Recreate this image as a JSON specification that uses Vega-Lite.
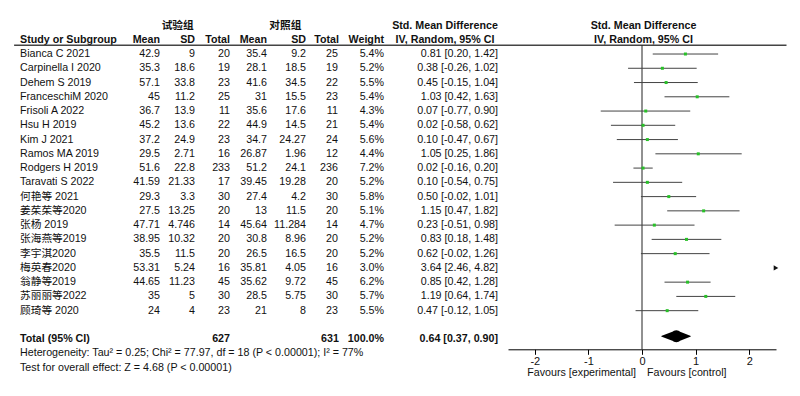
{
  "$schema": "https://vega.github.io/schema/vega-lite/v6.json",
  "width": 800,
  "height": 396,
  "autosize": "none",
  "padding": 0,
  "background": "white",
  "config": {
    "view": {"stroke": null},
    "font": "Liberation Sans, Noto Sans CJK SC",
    "text": {"font": "Liberation Sans, Noto Sans CJK SC", "fontSize": 10.7, "color": "#111"}
  },
  "datasets": {
    "rows": [
      {"row": "h2", "study": "Study or Subgroup", "em": "Mean", "esd": "SD", "et": "Total", "cm": "Mean", "csd": "SD", "ct": "Total", "w": "Weight", "ci": ""},
      {"row": "Bianca C 2021", "study": "Bianca C 2021", "em": "42.9", "esd": "9", "et": "20", "cm": "35.4", "csd": "9.2", "ct": "25", "w": "5.4%", "ci": "0.81 [0.20, 1.42]", "est": 0.81, "lo": 0.20, "hi": 1.42},
      {"row": "Carpinella I 2020", "study": "Carpinella I 2020", "em": "35.3", "esd": "18.6", "et": "19", "cm": "28.1", "csd": "18.5", "ct": "19", "w": "5.2%", "ci": "0.38 [-0.26, 1.02]", "est": 0.38, "lo": -0.26, "hi": 1.02},
      {"row": "Dehem S 2019", "study": "Dehem S 2019", "em": "57.1", "esd": "33.8", "et": "23", "cm": "41.6", "csd": "34.5", "ct": "22", "w": "5.5%", "ci": "0.45 [-0.15, 1.04]", "est": 0.45, "lo": -0.15, "hi": 1.04},
      {"row": "FranceschiM 2020", "study": "FranceschiM 2020", "em": "45", "esd": "11.2", "et": "25", "cm": "31", "csd": "15.5", "ct": "23", "w": "5.4%", "ci": "1.03 [0.42, 1.63]", "est": 1.03, "lo": 0.42, "hi": 1.63},
      {"row": "Frisoli A 2022", "study": "Frisoli A 2022", "em": "36.7", "esd": "13.9", "et": "11", "cm": "35.6", "csd": "17.6", "ct": "11", "w": "4.3%", "ci": "0.07 [-0.77, 0.90]", "est": 0.07, "lo": -0.77, "hi": 0.90},
      {"row": "Hsu H 2019", "study": "Hsu H 2019", "em": "45.2", "esd": "13.6", "et": "22", "cm": "44.9", "csd": "14.5", "ct": "21", "w": "5.4%", "ci": "0.02 [-0.58, 0.62]", "est": 0.02, "lo": -0.58, "hi": 0.62},
      {"row": "Kim J 2021", "study": "Kim J 2021", "em": "37.2", "esd": "24.9", "et": "23", "cm": "34.7", "csd": "24.27", "ct": "24", "w": "5.6%", "ci": "0.10 [-0.47, 0.67]", "est": 0.10, "lo": -0.47, "hi": 0.67},
      {"row": "Ramos MA 2019", "study": "Ramos MA 2019", "em": "29.5", "esd": "2.71", "et": "16", "cm": "26.87", "csd": "1.96", "ct": "12", "w": "4.4%", "ci": "1.05 [0.25, 1.86]", "est": 1.05, "lo": 0.25, "hi": 1.86},
      {"row": "Rodgers H 2019", "study": "Rodgers H 2019", "em": "51.6", "esd": "22.8", "et": "233", "cm": "51.2", "csd": "24.1", "ct": "236", "w": "7.2%", "ci": "0.02 [-0.16, 0.20]", "est": 0.02, "lo": -0.16, "hi": 0.20},
      {"row": "Taravati S 2022", "study": "Taravati S 2022", "em": "41.59", "esd": "21.33", "et": "17", "cm": "39.45", "csd": "19.28", "ct": "20", "w": "5.2%", "ci": "0.10 [-0.54, 0.75]", "est": 0.10, "lo": -0.54, "hi": 0.75},
      {"row": "何艳等 2021", "study": "何艳等 2021", "em": "29.3", "esd": "3.3", "et": "30", "cm": "27.4", "csd": "4.2", "ct": "30", "w": "5.8%", "ci": "0.50 [-0.02, 1.01]", "est": 0.50, "lo": -0.02, "hi": 1.01},
      {"row": "姜茱茱等2020", "study": "姜茱茱等2020", "em": "27.5", "esd": "13.25", "et": "20", "cm": "13", "csd": "11.5", "ct": "20", "w": "5.1%", "ci": "1.15 [0.47, 1.82]", "est": 1.15, "lo": 0.47, "hi": 1.82},
      {"row": "张杨 2019", "study": "张杨 2019", "em": "47.71", "esd": "4.746", "et": "14", "cm": "45.64", "csd": "11.284", "ct": "14", "w": "4.7%", "ci": "0.23 [-0.51, 0.98]", "est": 0.23, "lo": -0.51, "hi": 0.98},
      {"row": "张海燕等2019", "study": "张海燕等2019", "em": "38.95", "esd": "10.32", "et": "20", "cm": "30.8", "csd": "8.96", "ct": "20", "w": "5.2%", "ci": "0.83 [0.18, 1.48]", "est": 0.83, "lo": 0.18, "hi": 1.48},
      {"row": "李宇淇2020", "study": "李宇淇2020", "em": "35.5", "esd": "11.5", "et": "20", "cm": "26.5", "csd": "16.5", "ct": "20", "w": "5.2%", "ci": "0.62 [-0.02, 1.26]", "est": 0.62, "lo": -0.02, "hi": 1.26},
      {"row": "梅英春2020", "study": "梅英春2020", "em": "53.31", "esd": "5.24", "et": "16", "cm": "35.81", "csd": "4.05", "ct": "16", "w": "3.0%", "ci": "3.64 [2.46, 4.82]", "est": 3.64, "lo": 2.46, "hi": 4.82},
      {"row": "翁静等2019", "study": "翁静等2019", "em": "44.65", "esd": "11.23", "et": "45", "cm": "35.62", "csd": "9.72", "ct": "45", "w": "6.2%", "ci": "0.85 [0.42, 1.28]", "est": 0.85, "lo": 0.42, "hi": 1.28},
      {"row": "苏丽丽等2022", "study": "苏丽丽等2022", "em": "35", "esd": "5", "et": "30", "cm": "28.5", "csd": "5.75", "ct": "30", "w": "5.7%", "ci": "1.19 [0.64, 1.74]", "est": 1.19, "lo": 0.64, "hi": 1.74},
      {"row": "顾琦等 2020", "study": "顾琦等 2020", "em": "24", "esd": "4", "et": "23", "cm": "21", "csd": "8", "ct": "23", "w": "5.5%", "ci": "0.47 [-0.12, 1.05]", "est": 0.47, "lo": -0.12, "hi": 1.05},
      {"row": "Total", "study": "Total (95% CI)", "em": "", "esd": "", "et": "627", "cm": "", "csd": "", "ct": "631", "w": "100.0%", "ci": "0.64 [0.37, 0.90]"}
    ],
    "notes": [
      {"row": "het", "t": "Heterogeneity: Tau² = 0.25; Chi² = 77.97, df = 18 (P < 0.00001); I² = 77%"},
      {"row": "test", "t": "Test for overall effect: Z = 4.68 (P < 0.00001)"}
    ]
  },
  "encoding": {
    "y": {
      "field": "row", "type": "nominal", "axis": null,
      "scale": {
        "type": "point",
        "padding": 0,
        "domain": ["h1", "h2", "Bianca C 2021", "Carpinella I 2020", "Dehem S 2019", "FranceschiM 2020", "Frisoli A 2022", "Hsu H 2019", "Kim J 2021", "Ramos MA 2019", "Rodgers H 2019", "Taravati S 2022", "何艳等 2021", "姜茱茱等2020", "张杨 2019", "张海燕等2019", "李宇淇2020", "梅英春2020", "翁静等2019", "苏丽丽等2022", "顾琦等 2020", "blank", "Total", "het", "test"],
        "range": [25.5, 367.7]
      }
    }
  },
  "layer": [
    {
      "layer": [
        {"data": {"name": "rows"}, "transform": [{"filter": "datum.row !== 'h2' && datum.row !== 'Total'"}],
         "mark": {"type": "text", "align": "left", "dx": -101.1},
         "encoding": {"x": {"datum": "study", "axis": null, "scale": {"type": "point", "padding": 0, "domain": ["study", "em", "esd", "et", "cm", "csd", "ct", "w", "ci"], "range": [121.1, 415.5]}}, "text": {"field": "study"}}},
        {"data": {"name": "rows"}, "transform": [{"filter": "datum.row === 'h2' || datum.row === 'Total'"}],
         "mark": {"type": "text", "align": "left", "dx": -101.1, "fontWeight": "bold"},
         "encoding": {"x": {"datum": "study", "axis": null, "scale": {"type": "point", "padding": 0, "domain": ["study", "em", "esd", "et", "cm", "csd", "ct", "w", "ci"], "range": [121.1, 415.5]}}, "text": {"field": "study"}}},

        {"data": {"name": "rows"}, "transform": [{"filter": "datum.row !== 'h2' && datum.row !== 'Total'"}],
         "mark": {"type": "text", "align": "right", "dx": 2.1},
         "encoding": {"x": {"datum": "em", "axis": null, "scale": {"type": "point", "padding": 0, "domain": ["study", "em", "esd", "et", "cm", "csd", "ct", "w", "ci"], "range": [121.1, 415.5]}}, "text": {"field": "em"}}},
        {"data": {"name": "rows"}, "transform": [{"filter": "datum.row === 'h2' || datum.row === 'Total'"}],
         "mark": {"type": "text", "align": "right", "dx": 2.1, "fontWeight": "bold"},
         "encoding": {"x": {"datum": "em", "axis": null, "scale": {"type": "point", "padding": 0, "domain": ["study", "em", "esd", "et", "cm", "csd", "ct", "w", "ci"], "range": [121.1, 415.5]}}, "text": {"field": "em"}}},

        {"data": {"name": "rows"}, "transform": [{"filter": "datum.row !== 'h2' && datum.row !== 'Total'"}],
         "mark": {"type": "text", "align": "right", "dx": 0.3},
         "encoding": {"x": {"datum": "esd", "axis": null, "scale": {"type": "point", "padding": 0, "domain": ["study", "em", "esd", "et", "cm", "csd", "ct", "w", "ci"], "range": [121.1, 415.5]}}, "text": {"field": "esd"}}},
        {"data": {"name": "rows"}, "transform": [{"filter": "datum.row === 'h2' || datum.row === 'Total'"}],
         "mark": {"type": "text", "align": "right", "dx": 0.3, "fontWeight": "bold"},
         "encoding": {"x": {"datum": "esd", "axis": null, "scale": {"type": "point", "padding": 0, "domain": ["study", "em", "esd", "et", "cm", "csd", "ct", "w", "ci"], "range": [121.1, 415.5]}}, "text": {"field": "esd"}}},

        {"data": {"name": "rows"}, "transform": [{"filter": "datum.row !== 'h2' && datum.row !== 'Total'"}],
         "mark": {"type": "text", "align": "right", "dx": -1.5},
         "encoding": {"x": {"datum": "et", "axis": null, "scale": {"type": "point", "padding": 0, "domain": ["study", "em", "esd", "et", "cm", "csd", "ct", "w", "ci"], "range": [121.1, 415.5]}}, "text": {"field": "et"}}},
        {"data": {"name": "rows"}, "transform": [{"filter": "datum.row === 'h2' || datum.row === 'Total'"}],
         "mark": {"type": "text", "align": "right", "dx": -1.5, "fontWeight": "bold"},
         "encoding": {"x": {"datum": "et", "axis": null, "scale": {"type": "point", "padding": 0, "domain": ["study", "em", "esd", "et", "cm", "csd", "ct", "w", "ci"], "range": [121.1, 415.5]}}, "text": {"field": "et"}}},

        {"data": {"name": "rows"}, "transform": [{"filter": "datum.row !== 'h2' && datum.row !== 'Total'"}],
         "mark": {"type": "text", "align": "right", "dx": -1.3},
         "encoding": {"x": {"datum": "cm", "axis": null, "scale": {"type": "point", "padding": 0, "domain": ["study", "em", "esd", "et", "cm", "csd", "ct", "w", "ci"], "range": [121.1, 415.5]}}, "text": {"field": "cm"}}},
        {"data": {"name": "rows"}, "transform": [{"filter": "datum.row === 'h2' || datum.row === 'Total'"}],
         "mark": {"type": "text", "align": "right", "dx": -1.3, "fontWeight": "bold"},
         "encoding": {"x": {"datum": "cm", "axis": null, "scale": {"type": "point", "padding": 0, "domain": ["study", "em", "esd", "et", "cm", "csd", "ct", "w", "ci"], "range": [121.1, 415.5]}}, "text": {"field": "cm"}}},

        {"data": {"name": "rows"}, "transform": [{"filter": "datum.row !== 'h2' && datum.row !== 'Total'"}],
         "mark": {"type": "text", "align": "right", "dx": 0.9},
         "encoding": {"x": {"datum": "csd", "axis": null, "scale": {"type": "point", "padding": 0, "domain": ["study", "em", "esd", "et", "cm", "csd", "ct", "w", "ci"], "range": [121.1, 415.5]}}, "text": {"field": "csd"}}},
        {"data": {"name": "rows"}, "transform": [{"filter": "datum.row === 'h2' || datum.row === 'Total'"}],
         "mark": {"type": "text", "align": "right", "dx": 0.9, "fontWeight": "bold"},
         "encoding": {"x": {"datum": "csd", "axis": null, "scale": {"type": "point", "padding": 0, "domain": ["study", "em", "esd", "et", "cm", "csd", "ct", "w", "ci"], "range": [121.1, 415.5]}}, "text": {"field": "csd"}}},

        {"data": {"name": "rows"}, "transform": [{"filter": "datum.row !== 'h2' && datum.row !== 'Total'"}],
         "mark": {"type": "text", "align": "right", "dx": -4},
         "encoding": {"x": {"datum": "ct", "axis": null, "scale": {"type": "point", "padding": 0, "domain": ["study", "em", "esd", "et", "cm", "csd", "ct", "w", "ci"], "range": [121.1, 415.5]}}, "text": {"field": "ct"}}},
        {"data": {"name": "rows"}, "transform": [{"filter": "datum.row === 'h2' || datum.row === 'Total'"}],
         "mark": {"type": "text", "align": "right", "dx": -3, "fontWeight": "bold"},
         "encoding": {"x": {"datum": "ct", "axis": null, "scale": {"type": "point", "padding": 0, "domain": ["study", "em", "esd", "et", "cm", "csd", "ct", "w", "ci"], "range": [121.1, 415.5]}}, "text": {"field": "ct"}}},

        {"data": {"name": "rows"}, "transform": [{"filter": "datum.row !== 'h2' && datum.row !== 'Total'"}],
         "mark": {"type": "text", "align": "right", "dx": 5.3},
         "encoding": {"x": {"datum": "w", "axis": null, "scale": {"type": "point", "padding": 0, "domain": ["study", "em", "esd", "et", "cm", "csd", "ct", "w", "ci"], "range": [121.1, 415.5]}}, "text": {"field": "w"}}},
        {"data": {"name": "rows"}, "transform": [{"filter": "datum.row === 'h2' || datum.row === 'Total'"}],
         "mark": {"type": "text", "align": "right", "dx": 5.3, "fontWeight": "bold"},
         "encoding": {"x": {"datum": "w", "axis": null, "scale": {"type": "point", "padding": 0, "domain": ["study", "em", "esd", "et", "cm", "csd", "ct", "w", "ci"], "range": [121.1, 415.5]}}, "text": {"field": "w"}}},

        {"data": {"name": "rows"}, "transform": [{"filter": "datum.row !== 'h2' && datum.row !== 'Total'"}],
         "mark": {"type": "text", "align": "right", "dx": 82.5},
         "encoding": {"x": {"datum": "ci", "axis": null, "scale": {"type": "point", "padding": 0, "domain": ["study", "em", "esd", "et", "cm", "csd", "ct", "w", "ci"], "range": [121.1, 415.5]}}, "text": {"field": "ci"}}},
        {"data": {"name": "rows"}, "transform": [{"filter": "datum.row === 'Total'"}],
         "mark": {"type": "text", "align": "right", "dx": 82.5, "fontWeight": "bold"},
         "encoding": {"x": {"datum": "ci", "axis": null, "scale": {"type": "point", "padding": 0, "domain": ["study", "em", "esd", "et", "cm", "csd", "ct", "w", "ci"], "range": [121.1, 415.5]}}, "text": {"field": "ci"}}},

        {"data": {"values": [{"row": "h1", "t": "试验组"}]},
         "mark": {"type": "text", "align": "center", "dx": -17, "fontWeight": "bold"},
         "encoding": {"x": {"datum": "esd", "axis": null, "scale": {"type": "point", "padding": 0, "domain": ["study", "em", "esd", "et", "cm", "csd", "ct", "w", "ci"], "range": [121.1, 415.5]}}, "text": {"field": "t"}}},
        {"data": {"values": [{"row": "h1", "t": "对照组"}]},
         "mark": {"type": "text", "align": "center", "dx": 17, "fontWeight": "bold"},
         "encoding": {"x": {"datum": "cm", "axis": null, "scale": {"type": "point", "padding": 0, "domain": ["study", "em", "esd", "et", "cm", "csd", "ct", "w", "ci"], "range": [121.1, 415.5]}}, "text": {"field": "t"}}},
        {"data": {"values": [{"row": "h1", "t": "Std. Mean Difference"}, {"row": "h2", "t": "IV, Random, 95% CI"}]},
         "mark": {"type": "text", "align": "center", "dx": 29.5, "fontWeight": "bold"},
         "encoding": {"x": {"datum": "ci", "axis": null, "scale": {"type": "point", "padding": 0, "domain": ["study", "em", "esd", "et", "cm", "csd", "ct", "w", "ci"], "range": [121.1, 415.5]}}, "text": {"field": "t"}}},
        {"data": {"name": "notes"},
         "mark": {"type": "text", "align": "left", "dx": -101.1},
         "encoding": {"x": {"datum": "study", "axis": null, "scale": {"type": "point", "padding": 0, "domain": ["study", "em", "esd", "et", "cm", "csd", "ct", "w", "ci"], "range": [121.1, 415.5]}}, "text": {"field": "t"}}},
        {"data": {"values": [{"row": "h2"}]},
         "mark": {"type": "rule", "yOffset": 5.5, "xOffset": -107, "x2Offset": 371, "color": "#444", "strokeWidth": 1.3},
         "encoding": {"x": {"datum": "study", "axis": null, "scale": {"type": "point", "padding": 0, "domain": ["study", "em", "esd", "et", "cm", "csd", "ct", "w", "ci"], "range": [121.1, 415.5]}}, "x2": {"datum": "ci"}}}
      ]
    },
    {
      "layer": [
        {"data": {"values": [{"row": "h2", "row2": "Total"}]},
         "mark": {"type": "rule", "yOffset": 5.5, "y2Offset": 10, "color": "#222", "strokeWidth": 1},
         "encoding": {"x": {"datum": 0, "type": "quantitative", "scale": {"domain": [-2.29, 2.29], "range": [508, 776], "clamp": true},
                            "axis": {"values": [-2, -1, 0, 1, 2], "labelExpr": "datum.value < 0 ? '-' + abs(datum.value) : '' + datum.value", "offset": -46.7, "title": null, "grid": false, "domainColor": "#000", "tickColor": "#000", "labelColor": "#111", "labelFontSize": 11, "labelFont": "Liberation Sans", "tickSize": 5, "labelPadding": 1, "labelFlush": false}},
                      "y2": {"field": "row2"}}},
        {"data": {"name": "rows"}, "transform": [{"filter": "isValid(datum.est) && datum.est < 2.29"}],
         "mark": {"type": "rule", "color": "#444", "strokeWidth": 1},
         "encoding": {"x": {"field": "lo", "type": "quantitative", "title": null}, "x2": {"field": "hi"}}},
        {"data": {"name": "rows"}, "transform": [{"filter": "isValid(datum.est) && datum.est < 2.29"}],
         "mark": {"type": "point", "shape": "square", "filled": true, "size": 9, "color": "#28c028", "opacity": 1},
         "encoding": {"x": {"field": "est", "type": "quantitative", "title": null}}},
        {"data": {"name": "rows"}, "transform": [{"filter": "isValid(datum.est) && datum.est >= 2.29"}],
         "mark": {"type": "point", "shape": "triangle-right", "filled": true, "size": 28, "color": "#111", "opacity": 1},
         "encoding": {"x": {"field": "est", "type": "quantitative", "title": null}}},
        {"data": {"values": [{"row": "Total", "x": 0.37, "h": 0}, {"row": "Total", "x": 0.64, "h": 1}, {"row": "Total", "x": 0.90, "h": 0}]},
         "mark": {"type": "trail", "color": "#000", "yOffset": -3},
         "encoding": {"x": {"field": "x", "type": "quantitative", "title": null},
                      "size": {"field": "h", "type": "quantitative", "legend": null, "scale": {"domain": [0, 1], "range": [0, 12]}}}},
        {"data": {"values": [{"row": "h1", "t": "Std. Mean Difference"}, {"row": "h2", "t": "IV, Random, 95% CI"}]},
         "mark": {"type": "text", "align": "center", "dx": 1.5, "fontWeight": "bold"},
         "encoding": {"x": {"datum": 0, "type": "quantitative"}, "text": {"field": "t"}}},
        {"data": {"values": [{"row": "test", "t": "Favours [experimental]"}]},
         "mark": {"type": "text", "align": "right", "dx": -6, "dy": 5.5},
         "encoding": {"x": {"datum": 0, "type": "quantitative"}, "text": {"field": "t"}}},
        {"data": {"values": [{"row": "test", "t": "Favours [control]"}]},
         "mark": {"type": "text", "align": "left", "dx": 5, "dy": 5.5},
         "encoding": {"x": {"datum": 0, "type": "quantitative"}, "text": {"field": "t"}}}
      ]
    }
  ],
  "resolve": {"scale": {"x": "independent"}}
}
